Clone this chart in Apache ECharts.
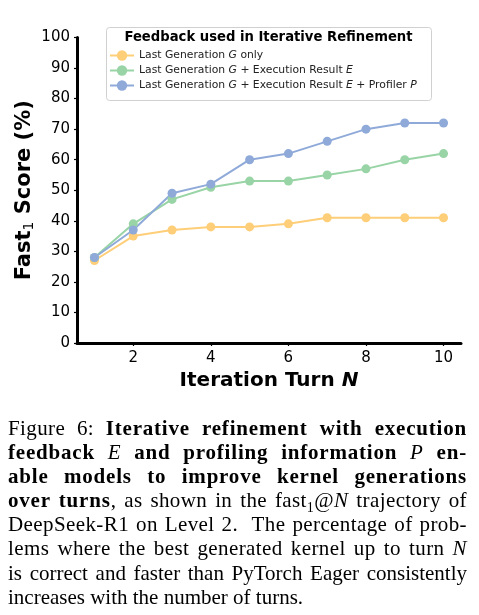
<!DOCTYPE html>
<html><head><meta charset="utf-8">
<script src="https://cdn.jsdelivr.net/npm/echarts@6/dist/echarts.min.js"></script>
<style>
html,body{margin:0;padding:0;background:#fff;}
#chart{position:absolute;left:0;top:0;width:479px;height:615px;}
#cap{position:absolute;left:8px;top:416px;width:459px;font-family:"Liberation Serif",serif;font-size:21px;line-height:24.1px;color:#000;}
#cap div{text-align:justify;text-align-last:justify;white-space:nowrap;}
#cap div.last{text-align-last:left;}
#cap div.ls{letter-spacing:0.4px;}
#cap b{letter-spacing:0.8px;}
#cap i{font-style:italic;font-weight:normal;}
</style></head>
<body>
<div id="chart"></div>
<div id="cap">
<div class="ls">Figure 6: <b>Iterative refinement with execution</b></div>
<div><b>feedback <i>E</i> and profiling information <i>P</i> en-</b></div>
<div><b>able models to improve kernel generations</b></div>
<div class="ls"><b>over turns</b>, as shown in the fast<sub style="font-size:14px;line-height:0">1</sub>@<i>N</i> trajectory of</div>
<div class="ls">DeepSeek-R1 on Level 2.&nbsp; The percentage of prob-</div>
<div class="ls">lems where the best generated kernel up to turn <i>N</i></div>
<div>is correct and faster than PyTorch Eager consistently</div>
<div class="last">increases with the number of turns.</div>
</div>
<script>
const turns = [1,2,3,4,5,6,7,8,9,10];
const genOnly = [27,35,37,38,38,39,41,41,41,41];
const genExec = [28,39,47,51,53,53,55,57,60,62];
const genExecProf = [28,37,49,52,60,62,66,70,72,72];
const xTicks = [2,4,6,8,10];
const seriesNames = [
  'Last Generation {i|G} only',
  'Last Generation {i|G} + Execution Result {i|E}',
  'Last Generation {i|G} + Execution Result {i|E} + Profiler {i|P}'
];
const colors = ['#FECE78','#98D4A5','#8FAAD9'];
const font = 'DejaVu Sans';

const chart = echarts.init(document.getElementById('chart'), null, {renderer:'canvas'});
function mk(name, vals, c){
  return {name:name, type:'line', data:turns.map((t,i)=>[t,vals[i]]),
    symbol:'circle', symbolSize:9, lineStyle:{width:2, color:c},
    itemStyle:{color:c}, emphasis:{disabled:true}, animation:false};
}
chart.setOption({
  animation:false,
  grid:{left:77, top:37.5, right:18, bottom:272, containLabel:false},
  xAxis:{type:'value', min:0.55, max:10.45,
    name:'{b|Iteration Turn }{bi|N}', nameLocation:'middle', nameGap:28, nameMoveOverlap:false,
    nameTextStyle:{rich:{b:{fontFamily:font,fontWeight:'bold',fontSize:20,color:'#000'},
                         bi:{fontFamily:font,fontWeight:'bold',fontStyle:'italic',fontSize:20,color:'#000'}}},
    axisLine:{show:true, onZero:false, lineStyle:{color:'#000', width:3}},
    axisTick:{show:true, length:3, lineStyle:{color:'#000', width:1.2}, customValues:xTicks},
    axisLabel:{fontFamily:font, fontSize:15, color:'#000', margin:8, customValues:xTicks},
    splitLine:{show:false}},
  yAxis:{type:'value', min:0, max:100, interval:10,
    name:'{b|Fast}{s|1}{b| Score (%)}', nameLocation:'middle', nameGap:41, nameRotate:90, nameMoveOverlap:false,
    nameTextStyle:{rich:{b:{fontFamily:font,fontWeight:'bold',fontSize:21,color:'#000'},
                         s:{fontFamily:font,fontSize:14,color:'#000',verticalAlign:'bottom',padding:[8,0,0,0]}}},
    axisLine:{show:true, lineStyle:{color:'#000', width:3}},
    axisTick:{show:true, length:3, lineStyle:{color:'#000', width:1.2}},
    axisLabel:{fontFamily:font, fontSize:15, color:'#000', margin:7},
    splitLine:{show:false}},
  legend:{orient:'vertical', left:109, top:50, itemWidth:24, itemHeight:13, itemGap:4,
    selectedMode:false, padding:0,
    textStyle:{fontFamily:font, fontSize:10.8, color:'#222',
      rich:{i:{fontFamily:font, fontSize:10.8, fontStyle:'italic', color:'#222'}}},
    data:seriesNames},
  graphic:[
    {type:'rect', left:106, top:27, shape:{width:325, height:73, r:3}, z:-1,
      style:{fill:'rgba(255,255,255,0.85)', stroke:'#d0d0d0', lineWidth:1}},
    {type:'text', x:268.5, y:37.5, z:10,
      style:{text:'Feedback used in Iterative Refinement', font:'bold 13.2px "DejaVu Sans"', fill:'#000', align:'center', verticalAlign:'middle'}}
  ],
  series:[mk(seriesNames[0],genOnly,colors[0]), mk(seriesNames[1],genExec,colors[1]), mk(seriesNames[2],genExecProf,colors[2])]
});
</script>
</body></html>
